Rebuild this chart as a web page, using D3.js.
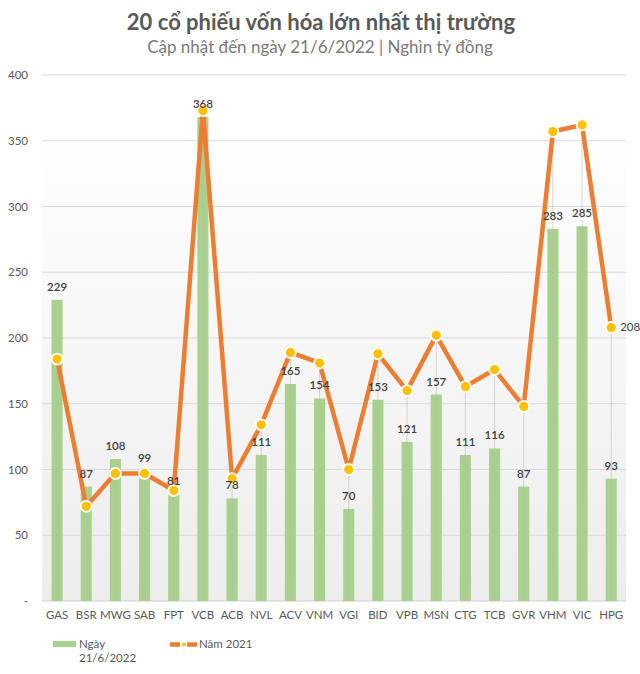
<!DOCTYPE html>
<html><head><meta charset="utf-8">
<script src="https://cdn.jsdelivr.net/npm/d3@7/dist/d3.min.js"></script>
<style>body{margin:0;background:#fff}svg{display:block}</style>
</head><body>
<script>
const categories = ["GAS","BSR","MWG","SAB","FPT","VCB","ACB","NVL","ACV","VNM","VGI","BID","VPB","MSN","CTG","TCB","GVR","VHM","VIC","HPG"];
const values2022 = [229,87,108,99,81,368,78,111,165,154,70,153,121,157,111,116,87,283,285,93];
const values2021 = [184,72,97,97,84,373,93,134,189,181,100,188,160,202,163,176,148,357,362,208];
const yTicks = [0,50,100,150,200,250,300,350,400];
const yTickLabels = ["-","50","100","150","200","250","300","350","400"];
const seriesNames = ["Ngày|21/6/2022","Năm 2021"];

const W=640,H=674;
const font="Lato, 'Open Sans', sans-serif";
const svg=d3.select("body").append("svg").attr("width",W).attr("height",H).style("font-family",font);
const x=d3.scaleBand().domain(categories).range([42.5,625.8]).paddingInner(0.62).paddingOuter(0.31);
const y=d3.scaleLinear().domain([0,400]).range([601,75]);

const defs=svg.append("defs");
const g=defs.append("linearGradient").attr("id","bg").attr("x1",0).attr("x2",0).attr("y1",0).attr("y2",1);
g.append("stop").attr("offset","0%").attr("stop-color","#fefefe");
g.append("stop").attr("offset","100%").attr("stop-color","#ededed");
svg.append("rect").attr("x",42).attr("y",y(350)).attr("width",584).attr("height",y(0)-y(350)).attr("fill","url(#bg)");

// title
svg.append("text").attr("x",321).attr("y",30).attr("text-anchor","middle").attr("font-size",22).attr("font-weight","bold").attr("fill","#595959").text("20 cổ phiếu vốn hóa lớn nhất thị trường");
svg.append("text").attr("x",320).attr("y",53).attr("text-anchor","middle").attr("font-size",17).attr("fill","#7a7a7a").text("Cập nhật đến ngày 21/6/2022 | Nghìn tỷ đồng");

// grid
svg.append("g").selectAll("line").data(yTicks).join("line")
 .attr("x1",42).attr("x2",626).attr("y1",d=>y(d)).attr("y2",d=>y(d))
 .attr("stroke",d=>d===0?"#cfcfcf":"#d9d9d9").attr("stroke-width",1);
svg.append("g").selectAll("text").data(yTicks).join("text")
 .attr("x",28).attr("y",d=>y(d)+4).attr("text-anchor","end").attr("font-size",11.5).attr("fill","#595959")
 .text((d,i)=>yTickLabels[i]);

const cx=c=>x(c)+x.bandwidth()/2;
// bars
svg.append("g").selectAll("rect").data(categories).join("rect")
 .attr("x",c=>x(c)).attr("width",x.bandwidth()).attr("y",(c,i)=>y(values2022[i])).attr("height",(c,i)=>y(0)-y(values2022[i]))
 .attr("fill","#a9d18e");
// drop lines
svg.append("g").selectAll("line").data(categories).join("line")
 .attr("x1",cx).attr("x2",cx).attr("y1",(c,i)=>y(values2021[i])).attr("y2",y(0))
 .attr("stroke","#b8b8b8").attr("stroke-opacity",0.55).attr("stroke-width",1);
// x labels
svg.append("g").selectAll("text").data(categories).join("text")
 .attr("x",cx).attr("y",619).attr("text-anchor","middle").attr("font-size",11.5).attr("fill","#595959").text(c=>c);

// line
const line=d3.line().x((d,i)=>cx(categories[i])).y(d=>y(d));
svg.append("path").attr("d",line(values2021)).attr("fill","none").attr("stroke","#ed7d31").attr("stroke-width",4.5).attr("stroke-linejoin","round");
svg.append("g").selectAll("circle").data(values2021).join("circle")
 .attr("cx",(d,i)=>cx(categories[i])).attr("cy",d=>y(d)).attr("r",5.5)
 .attr("fill","#ffc000").attr("stroke","#fff").attr("stroke-width",1.8);
// bar labels (drawn over the line)
svg.append("g").selectAll("text").data(categories).join("text")
 .attr("x",cx).attr("y",(c,i)=>y(values2022[i])-9).attr("text-anchor","middle").attr("font-size",11.5).attr("font-weight",600).attr("fill","#404040")
 .text((c,i)=>values2022[i]);
// HPG 2021 label
const li=categories.length-1;
svg.append("text").attr("x",cx(categories[li])+9).attr("y",y(values2021[li])+4).attr("font-size",11.5).attr("fill","#404040").text(values2021[li]);

// legend
const lg=svg.append("g");
lg.append("rect").attr("x",53).attr("y",641).attr("width",23).attr("height",6).attr("fill","#a9d18e");
const [n1a,n1b]=seriesNames[0].split("|");
lg.append("text").attr("x",79).attr("y",648).attr("font-size",11.5).attr("fill","#595959").text(n1a);
lg.append("text").attr("x",79).attr("y",662).attr("font-size",11.5).attr("fill","#595959").text(n1b);
lg.append("line").attr("x1",170).attr("x2",197).attr("y1",644.5).attr("y2",644.5).attr("stroke","#ed7d31").attr("stroke-width",4.5).attr("stroke-dasharray","10,7");
lg.append("circle").attr("cx",184).attr("cy",644.5).attr("r",2).attr("fill","#ffc000");
lg.append("text").attr("x",199).attr("y",648).attr("font-size",11.5).attr("fill","#595959").text(seriesNames[1]);
</script>
</body></html>
